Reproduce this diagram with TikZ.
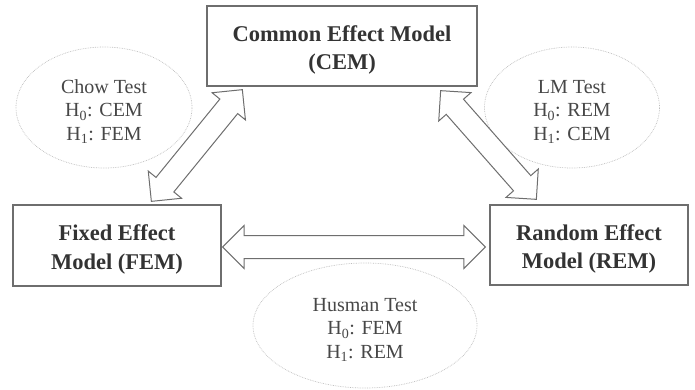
\documentclass[tikz,border=0pt]{standalone}
\usepackage{fontspec}
\setmainfont{Liberation Serif}
\usepackage{xcolor}
\usetikzlibrary{calc, positioning, shapes.geometric, shapes.arrows}
\definecolor{boxline}{HTML}{6E6E6E}
\definecolor{boxtext}{HTML}{333333}
\definecolor{testline}{HTML}{BDBDBD}
\definecolor{testtext}{HTML}{474747}
\tikzset{
  % Boxes for the models
  model/.style={draw=boxline,line width=1.3pt,fill=white,text=boxtext,align=center,
    font=\bfseries\fontsize{22.5}{28.5}\selectfont,inner sep=0,text height=52pt},
  % Dotted ellipses for the tests
  test/.style={ellipse,draw=testline,densely dotted,line width=0.7pt,fill=white,text=testtext,
    align=center,font=\fontsize{20}{23.5}\selectfont,inner sep=0,text height=69pt},
  % Hollow double arrows
  fat arrow/.style={double arrow,draw=boxline,line width=1pt,fill=white,
    inner ysep=11pt,inner xsep=0pt,double arrow head extend=10pt,double arrow tip angle=90}
}
\begin{document}
\begin{tikzpicture}[x=1pt,y=-1pt]
  \useasboundingbox (0,0) rectangle (695,389);
  % Tests
  \node[test,minimum width=176,minimum height=121] (chow) at (104,107.5)
    {Chow Test\\H\textsubscript{0}: CEM\\H\textsubscript{1}: FEM};
  \node[test,minimum width=175,minimum height=121] (lm) at (572,107.5)
    {LM Test\\H\textsubscript{0}: REM\\H\textsubscript{1}: CEM};
  \node[test,minimum width=224,minimum height=125] (husman) at (365,325.5)
    {Husman Test\\H\textsubscript{0}: FEM\\H\textsubscript{1}: REM};
  % Models
  \node[model,minimum width=270,minimum height=80] (cem) at (342,46)
    {Common Effect Model\\(CEM)};
  \node[model,minimum width=208,minimum height=81] (fem) at (117,245.5)
    {Fixed Effect\\Model (FEM)};
  \node[model,minimum width=198,minimum height=80] (rem) at (589,245)
    {Random Effect\\Model (REM)};
  % Arrow ends
  \coordinate (chowA) at ($(fem.north west)+(139,-3)$);
  \coordinate (chowB) at ($(cem.south west)+(36,3)$);
  \coordinate (lmA) at ($(cem.south east)+(-37,4)$);
  \coordinate (lmB) at ($(rem.north west)+(47,-5)$);
  \coordinate (husA) at ($(fem.east)+(1,1.5)$);
  \coordinate (husB) at ($(rem.west)+(-4,2)$);
  % Arrows
  \foreach \a/\b in {chowA/chowB, lmA/lmB, husA/husB}
    \path let \p1=($(\b)-(\a)$), \n1={veclen(\x1,\y1)} in
      (\a) -- (\b) node[fat arrow,midway,sloped,minimum height=\n1] {};
\end{tikzpicture}
\end{document}
